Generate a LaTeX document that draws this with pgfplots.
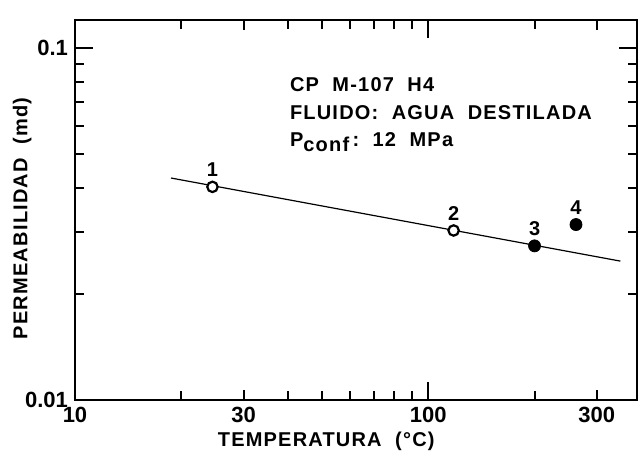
\documentclass[border=0pt]{standalone}
\usepackage{pgfplots}
\pgfplotsset{compat=1.18}
\usepackage{fontspec}
\setmainfont{Liberation Sans}
\newcommand{\lab}{\fontsize{10}{12}\selectfont\bfseries\addfontfeature{LetterSpace=6}}
\begin{document}
\begin{tikzpicture}
\begin{axis}[
  scale only axis, width=281pt, height=190pt,
  xmode=log, ymode=log,
  xmin=10, xmax=390, ymin=0.01, ymax=0.12,
  axis line style={line width=1.4pt},
  /pgf/number format/assume math mode=true,
  ticklabel style={font=\fontsize{11}{13}\selectfont\bfseries},
  xtick={10,100}, xticklabels={10,100},
  extra x ticks={30,300}, extra x tick labels={30,300},
  extra x tick style={major tick length=5pt},
  minor xtick={20,40,50,60,70,80,90,200},
  ytick={0.01,0.1}, yticklabels={0.01,0.1},
  minor ytick={0.02,0.03,0.04,0.05,0.06,0.07,0.08,0.09},
  tick align=inside,
  major tick length=9pt, minor tick length=4.5pt,
  every tick/.style={line width=1pt, black},
  xlabel={TEMPERATURA\ \ (°C)},
  ylabel={PERMEABILIDAD\ \ (md)},
  xlabel style={at={(axis description cs:0.447,-0.11)}, anchor=center, font=\lab},
  ylabel style={at={(axis description cs:-0.094,0.478)}, anchor=center, font=\lab},
  clip=false,
]
\addplot[no marks, line width=0.6pt, black] coordinates {(18.7,0.0427) (350,0.0248)};
\addplot[only marks, mark=*, mark size=2.6pt, mark options={fill=white, draw=black, line width=1.1pt},
  nodes near coords, point meta=explicit symbolic,
  every node near coord/.style={anchor=south, inner sep=0pt, yshift=4.5pt, font=\fontsize{10}{12}\selectfont\bfseries}]
  coordinates {(24.5,0.0403) [1] (118,0.0303) [2]};
\addplot[only marks, mark=*, mark size=3pt, mark options={fill=black, draw=black},
  nodes near coords, point meta=explicit symbolic,
  every node near coord/.style={anchor=south, inner sep=0pt, yshift=5pt, font=\fontsize{10}{12}\selectfont\bfseries}]
  coordinates {(200,0.0274) [3] (262,0.0315) [4]};
\node[anchor=west, font=\lab] at (rel axis cs:0.37,0.829) {CP\ \ M-107\ \ H4};
\node[anchor=west, font=\lab] at (rel axis cs:0.37,0.755) {FLUIDO:\ \ AGUA\ \ DESTILADA};
\node[anchor=west, font=\lab] at (rel axis cs:0.37,0.679) {P\raisebox{-0.45ex}{conf}\,:\ \ 12\ \ MPa};
\end{axis}
\pgfresetboundingbox
\path[use as bounding box] (-37.5pt,-27pt) rectangle (282.5pt,200pt);
\end{tikzpicture}
\end{document}
